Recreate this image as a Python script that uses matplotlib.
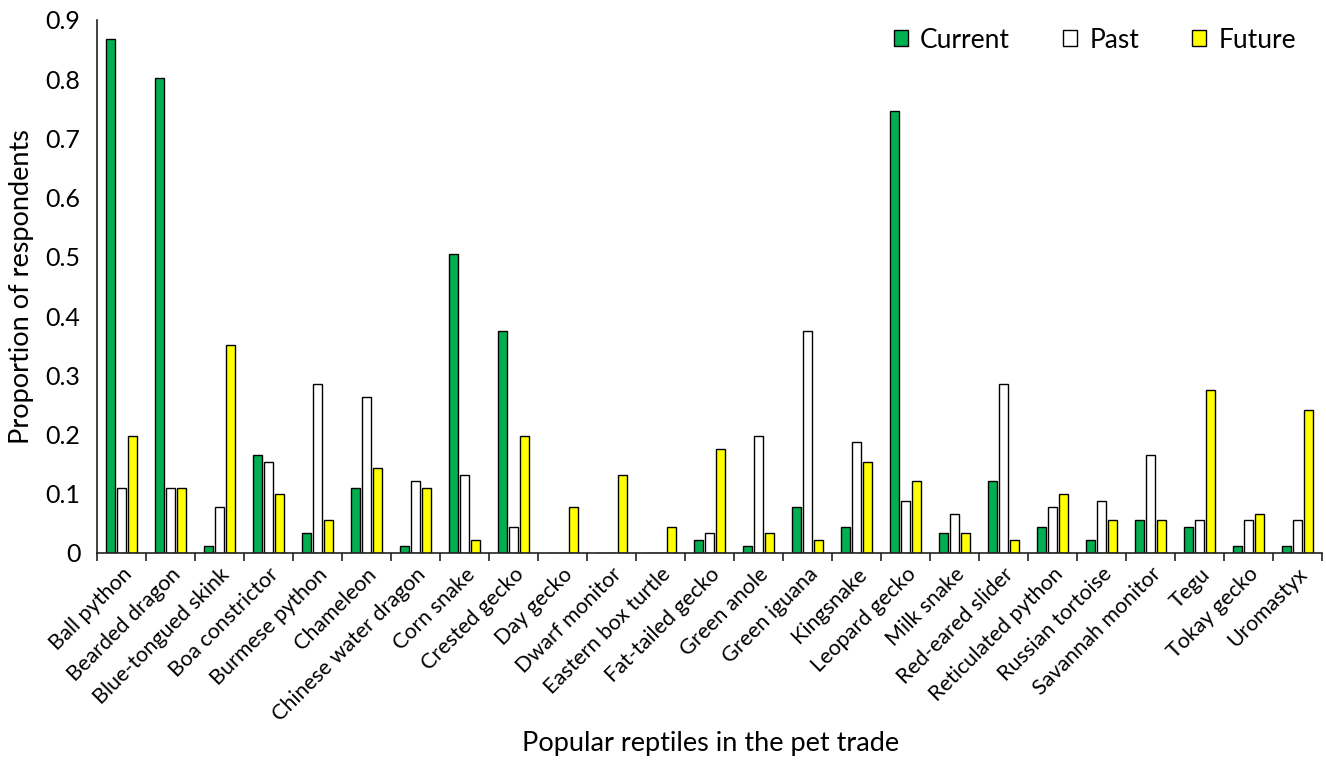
import matplotlib.pyplot as plt
import numpy as np

reptiles = ['Ball python', 'Bearded dragon', 'Blue-tongued skink', 'Boa constrictor',
            'Burmese python', 'Chameleon', 'Chinese water dragon', 'Corn snake',
            'Crested gecko', 'Day gecko', 'Dwarf monitor', 'Eastern box turtle',
            'Fat-tailed gecko', 'Green anole', 'Green iguana', 'Kingsnake',
            'Leopard gecko', 'Milk snake', 'Red-eared slider', 'Reticulated python',
            'Russian tortoise', 'Savannah monitor', 'Tegu', 'Tokay gecko', 'Uromastyx']

current = [0.868, 0.802, 0.011, 0.165, 0.033, 0.110, 0.011, 0.505,
           0.374, 0.0, 0.0, 0.0, 0.022, 0.011, 0.077, 0.044,
           0.747, 0.033, 0.121, 0.044, 0.022, 0.055, 0.044, 0.011, 0.011]
past = [0.110, 0.110, 0.077, 0.154, 0.286, 0.264, 0.121, 0.132,
        0.044, 0.0, 0.0, 0.0, 0.033, 0.198, 0.374, 0.187,
        0.088, 0.066, 0.286, 0.077, 0.088, 0.165, 0.055, 0.055, 0.055]
future = [0.198, 0.110, 0.352, 0.099, 0.055, 0.143, 0.110, 0.022,
          0.198, 0.077, 0.132, 0.044, 0.176, 0.033, 0.022, 0.154,
          0.121, 0.033, 0.022, 0.099, 0.055, 0.055, 0.275, 0.066, 0.242]

plt.rcParams['font.family'] = ['Lato', 'DejaVu Sans']

fig = plt.figure(figsize=(13.26, 7.6), dpi=100)
ax = fig.add_axes([0.0732, 0.2724, 0.9238, 0.7013])

x = np.arange(len(reptiles))
w = 0.18
step = 0.228
ax.bar(x - step, current, w, color='#00B050', edgecolor='black', linewidth=1, label='Current')
ax.bar(x, past, w, color='white', edgecolor='black', linewidth=1, label='Past')
ax.bar(x + step, future, w, color='#FFFF00', edgecolor='black', linewidth=1, label='Future')

ax.set_xlim(-0.5, len(reptiles) - 0.5)
ax.set_ylim(0, 0.9)
ax.set_yticks(np.arange(0, 0.91, 0.1))
ax.set_yticklabels(['0'] + ['%.1f' % v for v in np.arange(0.1, 0.91, 0.1)], fontsize=18)
ax.tick_params(axis='y', length=0, pad=12)

ax.set_xticks(x)
ax.set_xticklabels(reptiles, rotation=45, ha='right', rotation_mode='anchor', fontsize=15.5)
ax.tick_params(axis='x', which='major', length=0, pad=8)
ax.set_xticks(np.arange(-0.5, len(reptiles), 1), minor=True)
ax.tick_params(axis='x', which='minor', length=6, width=1.2, color='#222222')

for s in ['top', 'right']:
    ax.spines[s].set_visible(False)
for s in ['left', 'bottom']:
    ax.spines[s].set_color('#222222')
    ax.spines[s].set_linewidth(1.2)

ax.set_ylabel('Proportion of respondents', fontsize=19.5, labelpad=8)
ax.set_xlabel('Popular reptiles in the pet trade', fontsize=19.5, va='center')
ax.xaxis.set_label_coords(0.501, -0.358)

ax.legend(loc='upper right', bbox_to_anchor=(0.998, 1.03), ncol=3, frameon=False,
          fontsize=19, handlelength=0.55, handleheight=0.55, handletextpad=0.45,
          columnspacing=2.0)

plt.savefig('out.png', dpi=100)
